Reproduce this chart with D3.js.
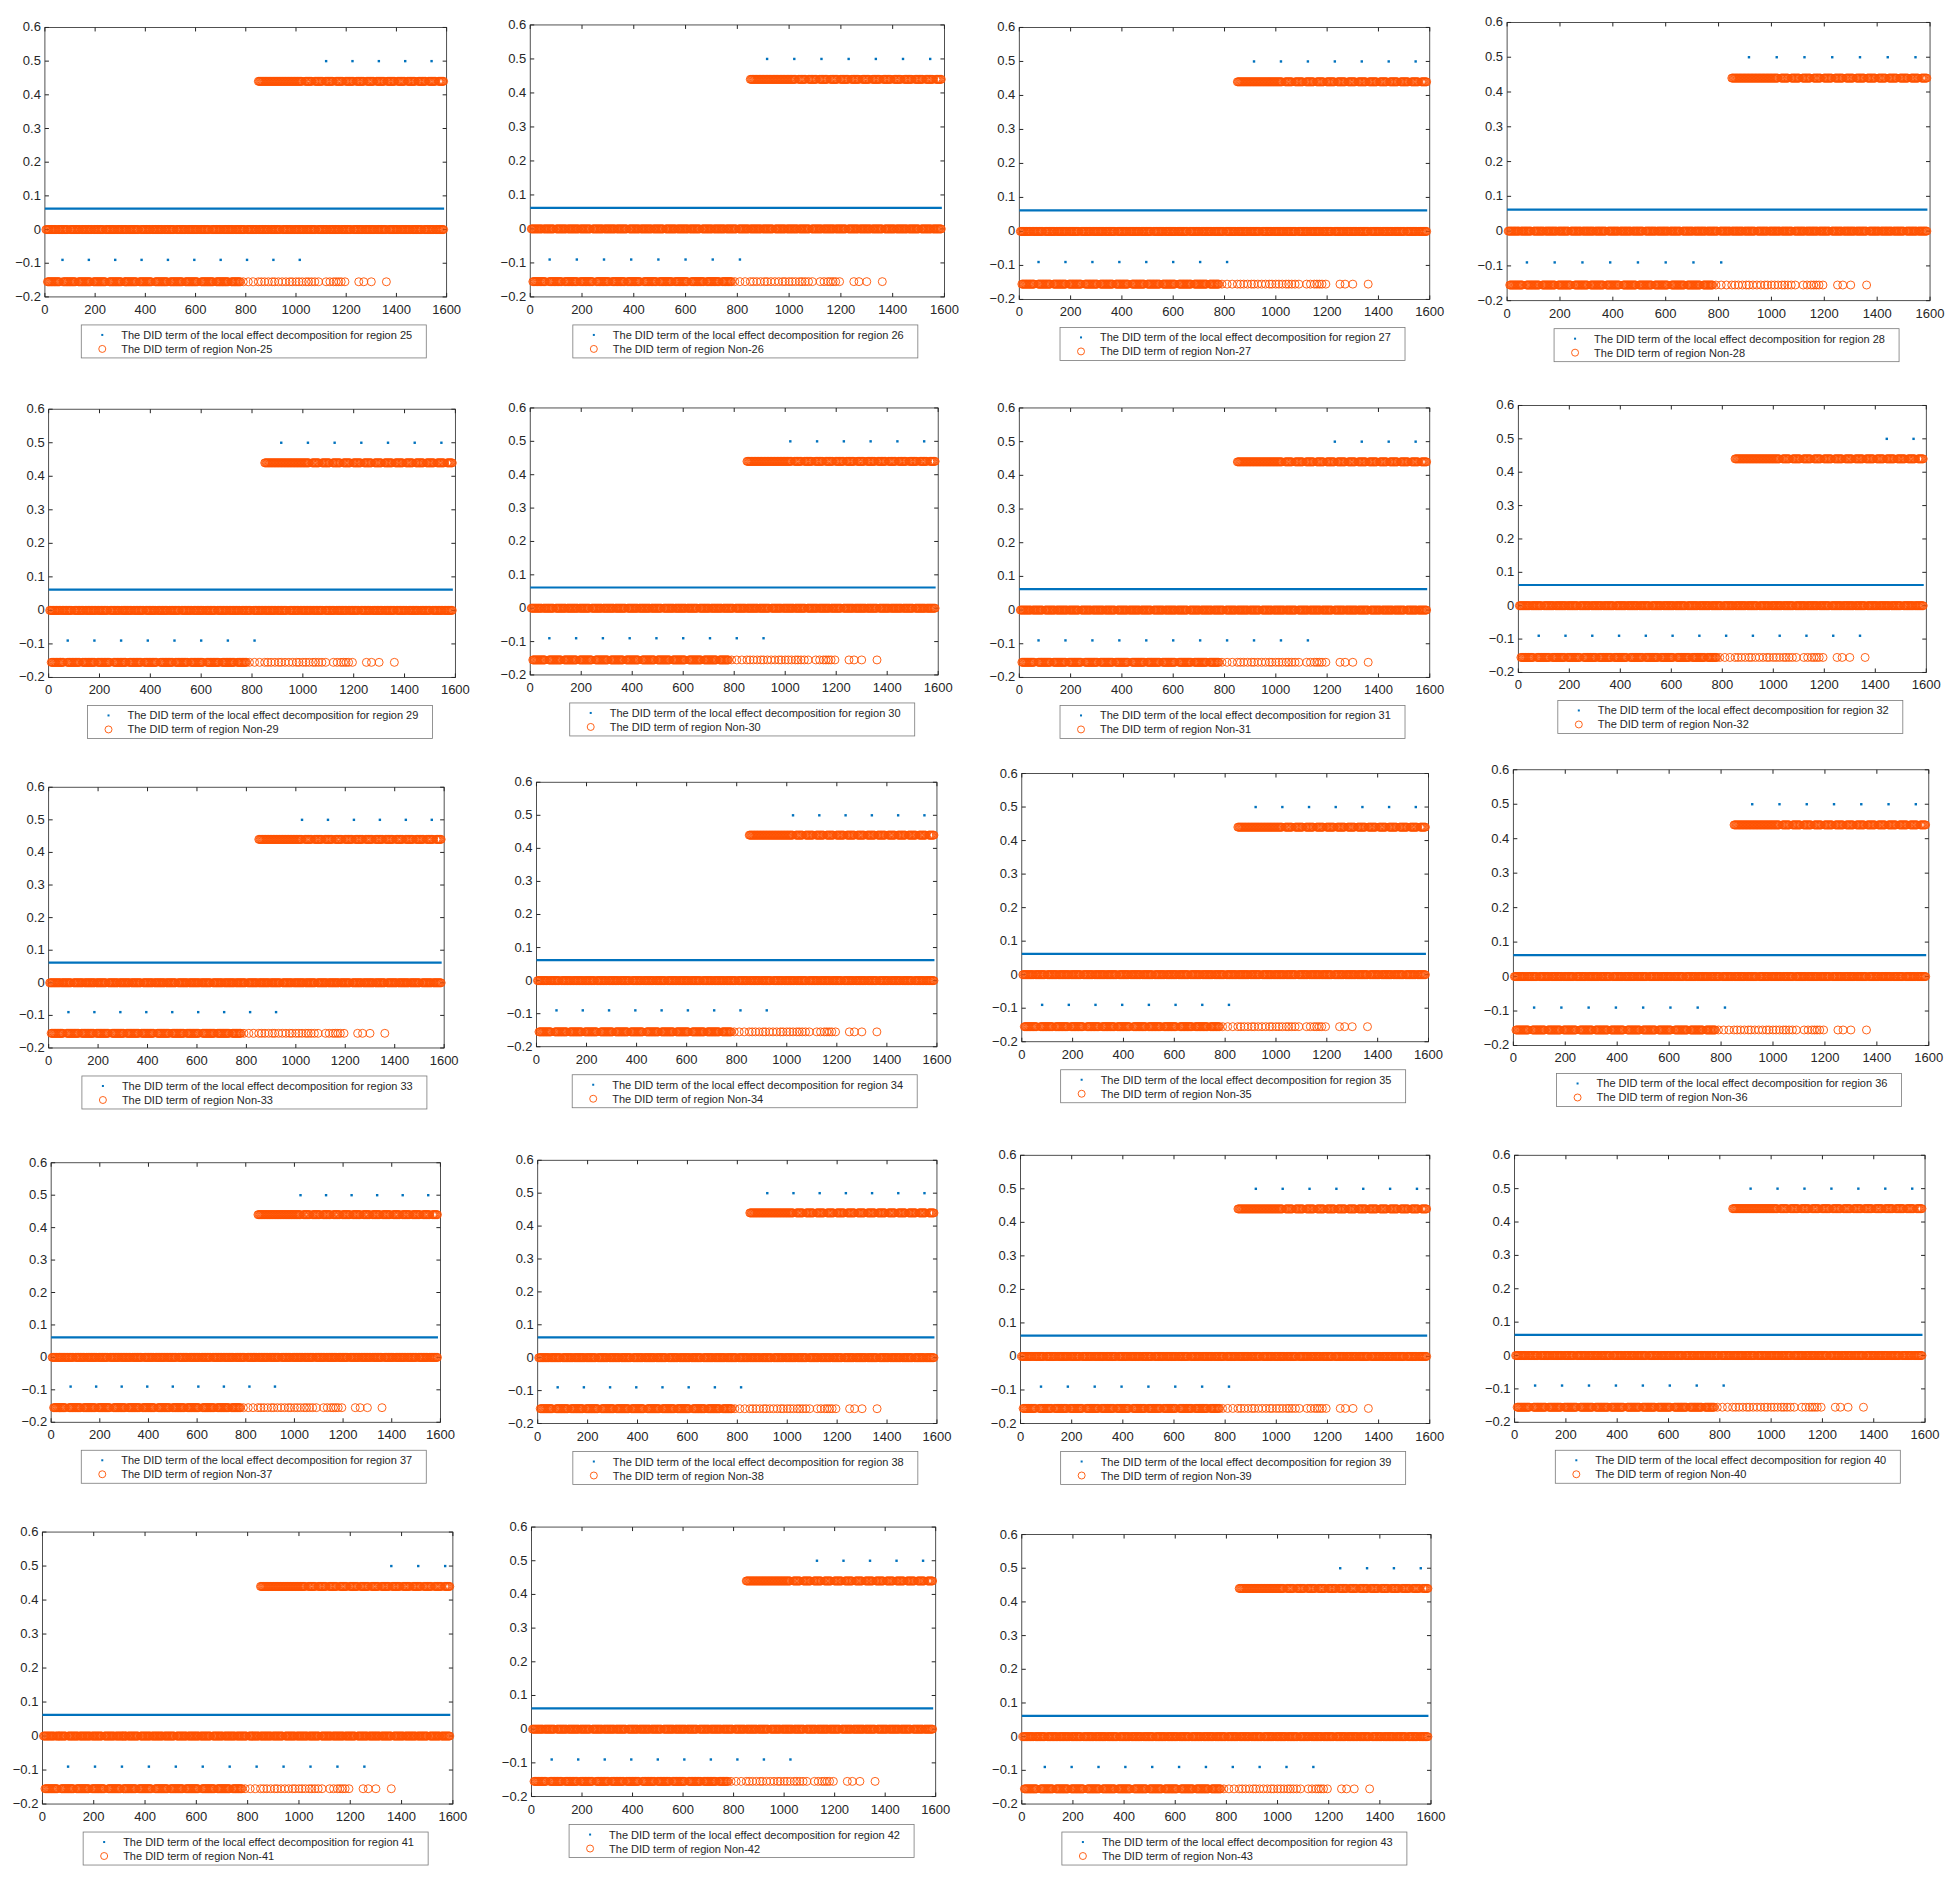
<!DOCTYPE html>
<html><head><meta charset="utf-8">
<script src="https://cdn.jsdelivr.net/npm/d3@7"></script>
<style>
body{margin:0;background:#fff;font-family:"Liberation Sans",Arial,sans-serif;}
svg text{fill:#262626;}
</style></head><body>
<svg id="chart" width="1950" height="1879"></svg>
<script>
// panel region ids, read left-to-right, top-to-bottom
const regions = [25,26,27,28,29,30,31,32,33,34,35,36,37,38,39,40,41,42,43];
// how many of the 15 blue dots sit at the low level (the rest are at 0.5)
const negDots = [10,8,8,8,8,9,11,13,9,9,8,8,9,8,8,8,12,10,11];
// first blue dot index per panel
const dotStart = [70,75,75,75,75,75,75,80,80,80,80,80,80,80,80,80,100,80,90];
const dotStep = 105;
// axes box per panel in reference display units [x0,x1,y0,y1]
const boxes = [
  [36,358,22,238],[425,757,20,238],[817,1146,22,240],[1208,1547,18,241],
  [39,365,328,543],[425,752,327,541],[817,1146,327,543],[1217,1544,325,539],
  [39,356,631,840],[430,751,627,839],[819,1145,620,835],[1213,1546,617,838],
  [41,353,932,1140],[431,751,930,1141],[818,1146,926,1141],[1214,1543,926,1140],
  [34,363,1228,1446],[426,750,1224,1440],[819,1147,1230,1446]
];
const S = 1950 / 1563;

// values
const blueLow = -0.09, blueHigh = 0.5, blueMean = 0.062;
const orangeHigh = 0.44, orangeZero = 0, orangeLow = -0.155;
// semi-sparse and sparse tail of low orange circles (index positions)
const lowTail = [790,810,830,850,862,875,890,905,915,930,945,960,975,985,1000,1012,1025,1040,1050,1062,1075,1090,
  1120,1135,1150,1160,1170,1180,1195,1250,1270,1300,1360];
const highStart = 850, lowDenseEnd = 780, nMax = 1590;
const xTicks = [0,200,400,600,800,1000,1200,1400,1600];
const yTicks = [-0.2,-0.1,0,0.1,0.2,0.3,0.4,0.5,0.6];
const blue = "#0072BD", orange = "#FF5100";

const svg = d3.select("#chart");

regions.forEach((reg, k) => {
  const b = boxes[k].map(v => v * S);
  const x = d3.scaleLinear().domain([0,1600]).range([b[0], b[1]]);
  const y = d3.scaleLinear().domain([-0.2,0.6]).range([b[3], b[2]]);
  const g = svg.append("g");

  g.append("rect").attr("x", b[0]).attr("y", b[2]).attr("width", b[1]-b[0]).attr("height", b[3]-b[2])
    .attr("fill", "none").attr("stroke", "#262626").attr("stroke-width", 0.8);

  // ticks (inside, all four sides)
  xTicks.forEach(t => {
    g.append("line").attr("x1", x(t)).attr("x2", x(t)).attr("y1", b[3]).attr("y2", b[3]-4).attr("stroke", "#262626");
    g.append("line").attr("x1", x(t)).attr("x2", x(t)).attr("y1", b[2]).attr("y2", b[2]+4).attr("stroke", "#262626");
    g.append("text").attr("x", x(t)).attr("y", b[3]+17).attr("text-anchor", "middle").attr("font-size", 13).text(t);
  });
  yTicks.forEach(t => {
    g.append("line").attr("x1", b[0]).attr("x2", b[0]+4).attr("y1", y(t)).attr("y2", y(t)).attr("stroke", "#262626");
    g.append("line").attr("x1", b[1]).attr("x2", b[1]-4).attr("y1", y(t)).attr("y2", y(t)).attr("stroke", "#262626");
    g.append("text").attr("x", b[0]-4).attr("y", y(t)+4).attr("text-anchor", "end").attr("font-size", 13)
      .text(d3.format("~g")(t));
  });

  // orange circles
  const oc = [];
  d3.range(1, nMax, 3).forEach(i => { if (i % 47 > 3) oc.push([i, orangeZero]); });
  d3.range(highStart, nMax, 3).forEach(i => { if (i % 41 > 8 || i < 1000) oc.push([i, orangeHigh]); });
  d3.range(1, lowDenseEnd, 3).forEach(i => { if (i % 61 > 9) oc.push([i, orangeLow]); });
  lowTail.forEach(i => oc.push([i, orangeLow]));
  g.selectAll("circle.o").data(oc).join("circle").attr("class", "o")
    .attr("cx", d => x(d[0])).attr("cy", d => y(d[1])).attr("r", 4)
    .attr("fill", "none").attr("stroke", orange).attr("stroke-width", 0.9);

  // blue mean line
  g.append("line").attr("x1", x(0)).attr("x2", x(nMax)).attr("y1", y(blueMean)).attr("y2", y(blueMean))
    .attr("stroke", blue).attr("stroke-width", 2.2);

  // blue dots
  const bd = d3.range(15).map(i => [dotStart[k] + dotStep * i, i < negDots[k] ? blueLow : blueHigh]);
  g.selectAll("rect.d").data(bd).join("rect").attr("class", "d")
    .attr("x", d => x(d[0]) - 1.2).attr("y", d => y(d[1]) - 1.2).attr("width", 2.4).attr("height", 2.4).attr("fill", blue);

  // legend
  const lw = 345, lh = 33;
  const lx = (b[0] + b[1]) / 2 - lw / 2 + 8, ly = b[3] + 28;
  const lg = g.append("g").attr("transform", `translate(${lx},${ly})`);
  lg.append("rect").attr("width", lw).attr("height", lh).attr("fill", "#fff").attr("stroke", "#7a7a7a").attr("stroke-width", 0.8);
  lg.append("rect").attr("x", 20).attr("y", 9).attr("width", 2).attr("height", 2).attr("fill", blue);
  lg.append("circle").attr("cx", 21).attr("cy", 24).attr("r", 3.5).attr("fill", "none").attr("stroke", orange).attr("stroke-width", 0.9);
  lg.append("text").attr("x", 40).attr("y", 14).attr("font-size", 11)
    .text(`The DID term of the local effect decomposition for region ${reg}`);
  lg.append("text").attr("x", 40).attr("y", 28).attr("font-size", 11).text(`The DID term of region Non-${reg}`);
});
</script>
</body></html>
